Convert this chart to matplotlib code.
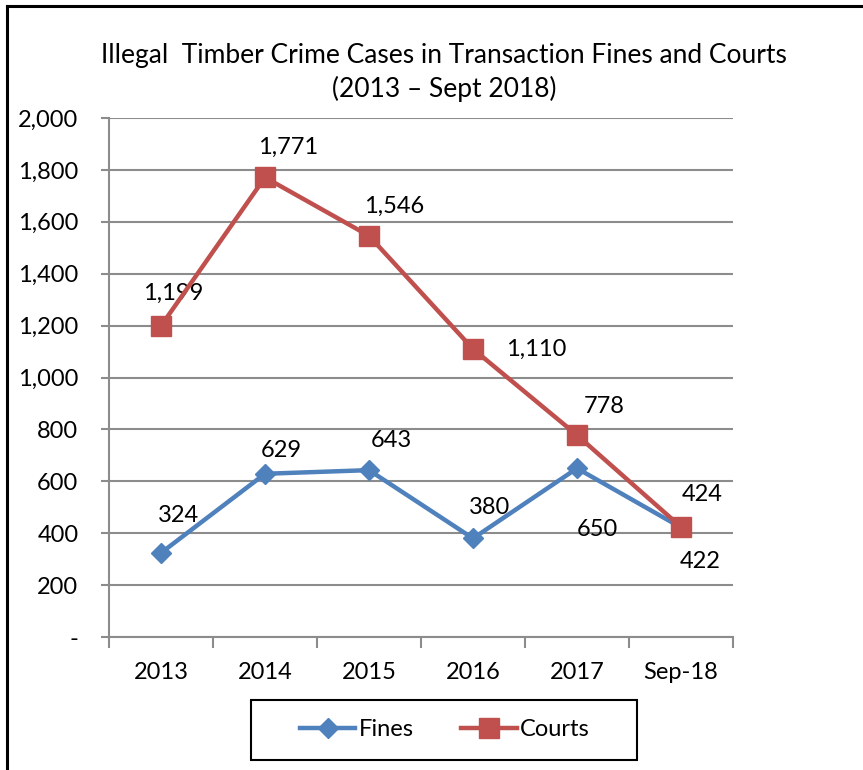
import matplotlib
matplotlib.use("Agg")
import matplotlib.pyplot as plt
from matplotlib.ticker import FuncFormatter, FixedLocator
from matplotlib.lines import Line2D
from matplotlib.patches import Rectangle

categories = ["2013", "2014", "2015", "2016", "2017", "Sep-18"]
fines = [324, 629, 643, 380, 650, 422]
courts = [1199, 1771, 1546, 1110, 778, 424]
fines_label_offsets = [(17, 37), (16, 23), (22, 30), (17, 31), (20, -61), (19, -34)]
courts_label_offsets = [(12, 33), (23, 30), (25, 29), (63, 0), (27, 29), (21, 32)]
yticks = [0, 200, 400, 600, 800, 1000, 1200, 1400, 1600, 1800, 2000]

plt.rcParams['font.family'] = ['Lato', 'DejaVu Sans']

W, H = 863, 770
fig = plt.figure(figsize=(W / 100, H / 100), dpi=100)

ax = fig.add_axes([109 / W, 1 - 637 / H, (733 - 109) / W, (637 - 118) / H])

blue = "#4F81BD"
red = "#C0504D"
x = list(range(len(categories)))

ax.plot(x, fines, color=blue, lw=3.2, marker="D", ms=10.5, mec=blue, mfc=blue, zorder=3)
ax.plot(x, courts, color=red, lw=3.2, marker="s", ms=14, mec=red, mfc=red, zorder=4)

fs = 17
for xi, v, (dx, dy) in zip(x, fines, fines_label_offsets):
    ax.annotate(f"{v:,}", (xi, v), xytext=(dx, dy), textcoords="offset pixels",
                ha="center", va="center", fontsize=fs, color="black")
for xi, v, (dx, dy) in zip(x, courts, courts_label_offsets):
    ax.annotate(f"{v:,}", (xi, v), xytext=(dx, dy), textcoords="offset pixels",
                ha="center", va="center", fontsize=fs, color="black")

ax.set_xlim(-0.5, len(categories) - 0.5)
ax.set_ylim(0, 2000)
ax.yaxis.set_major_locator(FixedLocator(yticks))
ax.yaxis.set_major_formatter(FuncFormatter(lambda v, p: "-" if v == 0 else f"{int(v):,}"))
ax.set_xticks(x)
ax.set_xticklabels(categories)
ax.set_xticks([i - 0.5 for i in range(len(categories) + 1)], minor=True)
ax.tick_params(axis="x", which="major", length=0, pad=18, labelsize=fs)
ax.tick_params(axis="x", which="minor", length=8, width=1.5, color="#8c8c8c", direction="out")
ax.tick_params(axis="y", which="major", length=6, width=1.5, color="#8c8c8c", pad=16, labelsize=fs)

ax.grid(axis="y", color="#8c8c8c", lw=1.5)
ax.set_axisbelow(True)
for s in ["top", "right"]:
    ax.spines[s].set_visible(False)
for s in ["left", "bottom"]:
    ax.spines[s].set_color("#8c8c8c")
    ax.spines[s].set_linewidth(1.5)

fig.text(444 / W, 1 - 55 / H, "Illegal  Timber Crime Cases in Transaction Fines and Courts",
         ha="center", va="center", fontsize=19)
fig.text(444 / W, 1 - 89 / H, "(2013 \u2013 Sept 2018)", ha="center", va="center", fontsize=19)

handles = [Line2D([], [], color=blue, lw=3.2, marker="D", ms=10.5),
           Line2D([], [], color=red, lw=3.2, marker="s", ms=14)]
leg = fig.legend(handles, ["Fines", "Courts"], loc="center", bbox_to_anchor=(445 / W, 1 - 730 / H),
                 ncol=2, fontsize=fs, frameon=False,
                 handlelength=2.35, handletextpad=0.15, columnspacing=2.0, borderpad=0.0,
                 borderaxespad=0.0)

# legend frame
fig.add_artist(Rectangle((251 / W, 1 - 760 / H), (637 - 251) / W, 60 / H, transform=fig.transFigure,
                         fill=False, edgecolor="black", lw=1.5))

# outer chart border (left and top visible)
fig.add_artist(Line2D([7 / W, 7 / W], [0, 1 - 6 / H], color="black", lw=2.2, transform=fig.transFigure))
fig.add_artist(Line2D([7 / W, 1], [1 - 6 / H, 1 - 6 / H], color="black", lw=2.2, transform=fig.transFigure))

fig.savefig("out.png", dpi=100)
